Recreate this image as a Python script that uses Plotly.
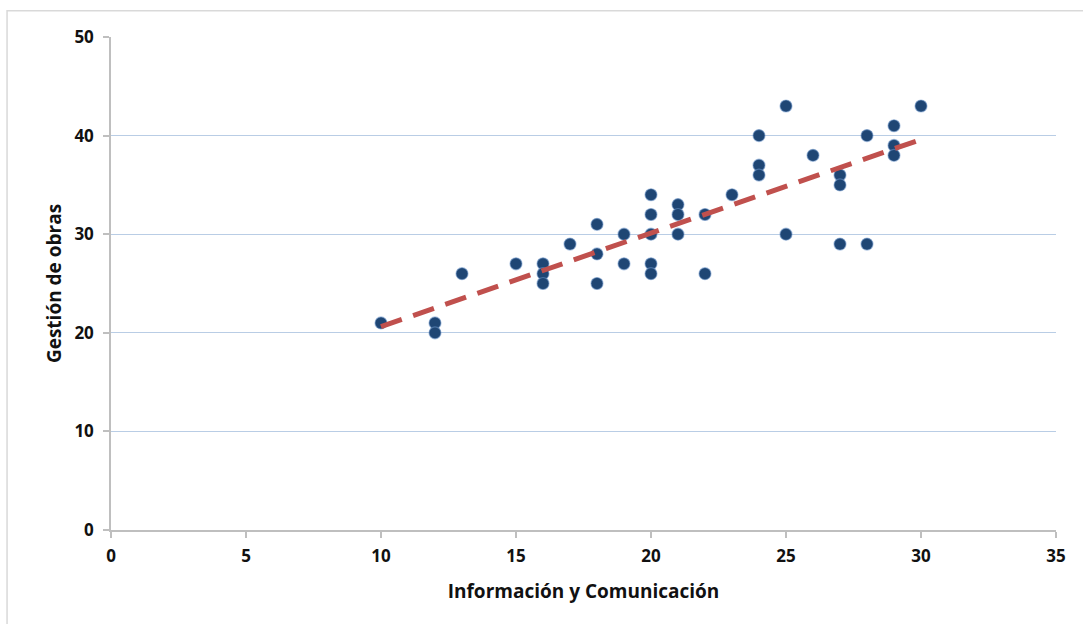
import numpy as np
import plotly.graph_objects as go

# Scores per student: Información y Comunicación (x) vs Gestión de obras (y)
info_com = [10, 12, 12, 13, 15, 16, 16, 16, 17, 18, 18, 18, 19, 19,
            20, 20, 20, 20, 20, 21, 21, 21, 22, 22, 23, 24, 24, 24,
            25, 25, 26, 27, 27, 27, 28, 28, 29, 29, 29, 30]
gestion_obras = [21, 21, 20, 26, 27, 27, 26, 25, 29, 31, 28, 25, 30, 27,
                 34, 32, 30, 27, 26, 33, 32, 30, 32, 26, 34, 40, 37, 36,
                 43, 30, 38, 36, 35, 29, 40, 29, 41, 39, 38, 43]

x_ticks = [0, 5, 10, 15, 20, 25, 30, 35]
y_ticks = [0, 10, 20, 30, 40, 50]

# Linear trend line (least squares) over the observed range
slope, intercept = np.polyfit(info_com, gestion_obras, 1)
trend_x = np.array([min(info_com), max(info_com)])
trend_y = slope * trend_x + intercept

FONT = "Open Sans"
TICK_FONT = dict(family=FONT, size=17, color="#111111", weight="bold")
TITLE_FONT = dict(family=FONT, size=19, color="#111111")

fig = go.Figure()
fig.add_trace(go.Scatter(
    x=info_com, y=gestion_obras, mode="markers",
    marker=dict(size=12, color="#1f4674",
                line=dict(color="rgba(110,150,200,0.55)", width=1.2)),
    showlegend=False, hoverinfo="x+y",
))
fig.add_trace(go.Scatter(
    x=trend_x, y=trend_y, mode="lines",
    line=dict(color="#c0504d", width=5, dash="22px,12px"),
    showlegend=False, hoverinfo="skip",
))

fig.update_layout(
    width=1083, height=624,
    margin=dict(l=111, r=27, t=37, b=94),
    paper_bgcolor="white", plot_bgcolor="white",
    font=dict(family=FONT, size=17, color="#000000"),
    xaxis=dict(
        range=[0, 35], tickvals=x_ticks, ticktext=[str(v) for v in x_ticks],
        showgrid=False, zeroline=False,
        showline=True, linecolor="#bfbfbf", linewidth=1.5,
        ticks="outside", ticklen=6, tickcolor="#bfbfbf", tickwidth=1.5,
        ticklabelstandoff=4,
        tickfont=TICK_FONT,
        title=dict(text="<b>Información y Comunicación</b>",
                   font=TITLE_FONT, standoff=19),
    ),
    yaxis=dict(
        range=[0, 50], tickvals=y_ticks, ticktext=[str(v) for v in y_ticks],
        showgrid=True, gridcolor="#b9cde5", gridwidth=1.2, zeroline=False,
        showline=True, linecolor="#bfbfbf", linewidth=1.5,
        ticks="outside", ticklen=6, tickcolor="#bfbfbf", tickwidth=1.5,
        ticklabelstandoff=6,
        tickfont=TICK_FONT,
        title=dict(text="<b>Gestión de obras</b>",
                   font=TITLE_FONT, standoff=8),
    ),
    shapes=[dict(type="rect", xref="paper", yref="paper",
                 x0=-0.110, x1=1.1, y0=-0.3, y1=1.053,
                 line=dict(color="#d9d9d9", width=1.5), layer="below")],
)

fig.write_html("out.html")
